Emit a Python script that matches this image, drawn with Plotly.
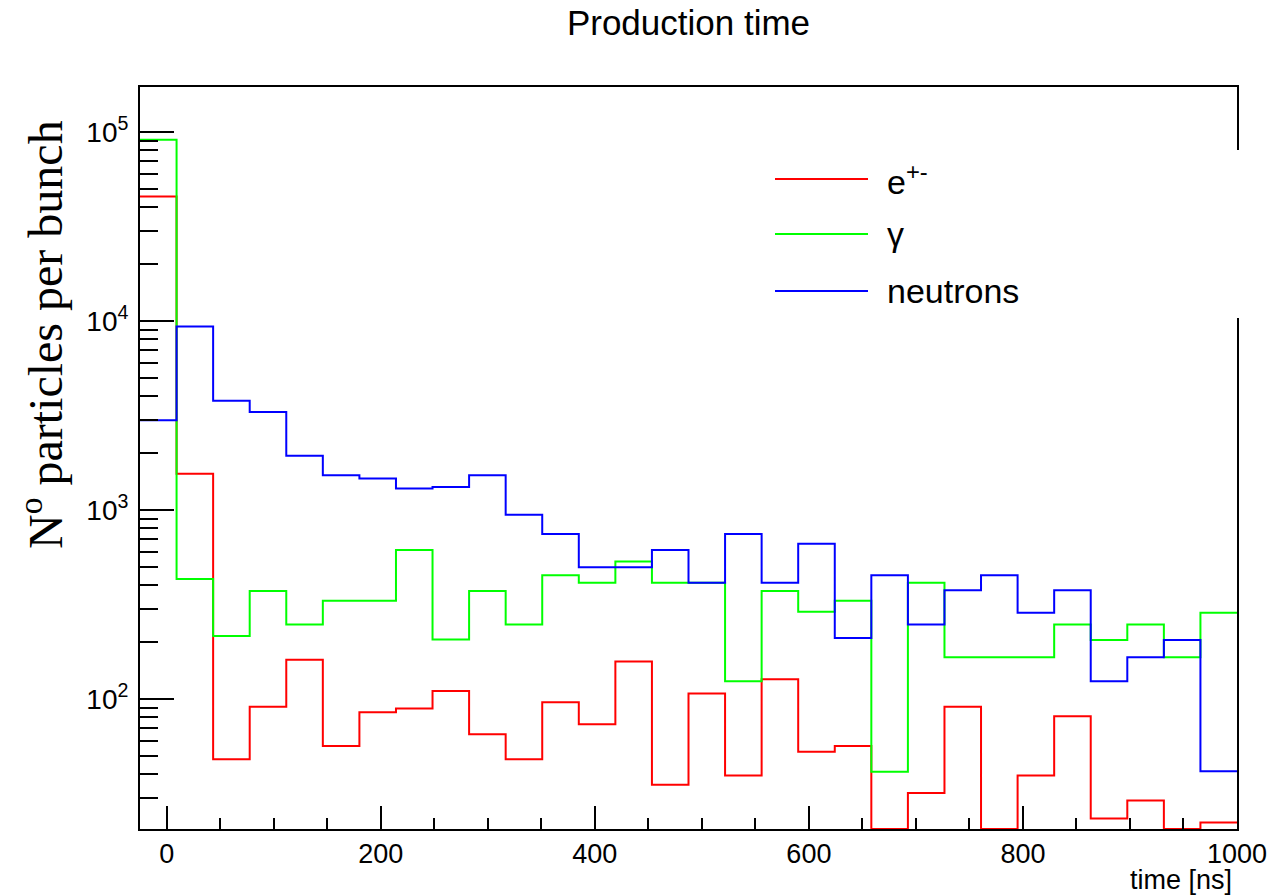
import numpy as np
import plotly.graph_objects as go

# ---- data ----
x_low, x_high, n_bins = -25.0, 1000.0, 30
bin_edges = np.linspace(x_low, x_high, n_bins + 1)

electrons = [45600, 1556, 48, 91, 161, 56.4, 85, 89, 110, 65,
             48, 96, 73.4, 158, 35.2, 107, 39.4, 127, 52.5, 56.4,
             0, 31.8, 91, 0, 39.3, 80.9, 23.3, 29, 0, 22.2]
gammas = [91000, 431, 215, 373, 248, 331, 331, 614, 206, 373,
          248, 451, 412, 533, 412, 412, 124, 373, 289, 331,
          41.2, 412, 166, 166, 166, 248, 205, 248, 166, 286]
neutrons = [2980, 9360, 3786, 3300, 1937, 1524, 1465, 1297, 1324, 1524,
            944, 746, 497, 497, 614, 412, 746, 412, 662, 210,
            451, 248, 376, 451, 286, 376, 124, 166, 205, 41.4]

series_names = ["e<sup>+-</sup>", "γ", "neutrons"]
series_colors = ["#ff0000", "#00ff00", "#0000ff"]

y_tick_vals = [1e2, 1e3, 1e4, 1e5]
y_tick_text = ["10<sup>2</sup>", "10<sup>3</sup>", "10<sup>4</sup>", "10<sup>5</sup>"]
x_tick_vals = [0, 200, 400, 600, 800, 1000]

y_log_range = [np.log10(20.5), 5.238]
y_floor = 10 ** y_log_range[0]

FIG_W, FIG_H = 1286, 896
PL, PR, PT, PB = 140, 1237, 87, 829   # plot area in pixels
PW, PH = PR - PL, PB - PT


def px_x(p):
    return (p - PL) / PW


def px_y(p):
    return (PB - p) / PH


fig = go.Figure()
for name, vals, col in zip(series_names, [electrons, gammas, neutrons], series_colors):
    v = np.maximum(np.asarray(vals, dtype=float), y_floor)
    ys = np.append(v, v[-1])
    fig.add_trace(go.Scatter(x=bin_edges, y=ys, mode="lines", line_shape="hv",
                             line=dict(color=col, width=2), name=name,
                             showlegend=False, hoverinfo="skip"))

FONT = "Liberation Sans, Arial, sans-serif"

minor_y = [d * 10 ** k for k in range(1, 6) for d in range(2, 10)]

fig.update_layout(
    width=FIG_W, height=FIG_H,
    paper_bgcolor="white", plot_bgcolor="white",
    margin=dict(l=PL, r=FIG_W - PR, t=PT, b=FIG_H - PB),
    font=dict(family=FONT, color="black"),
    title=dict(text="Production time", x=0.5, xref="paper", xanchor="center",
               y=1 - 23 / FIG_H, yref="container", yanchor="middle",
               font=dict(family=FONT, size=35, color="black")),
    xaxis=dict(range=[x_low, x_high], showgrid=False, zeroline=False,
               showline=True, linecolor="black", linewidth=2, mirror=True,
               ticks="inside", ticklen=23, tickwidth=2, tickcolor="black",
               tickmode="array", tickvals=x_tick_vals,
               tickfont=dict(family=FONT, size=27, color="black"),
               minor=dict(ticks="inside", ticklen=11, tickwidth=2, tickcolor="black",
                          dtick=50, tick0=0, showgrid=False)),
    yaxis=dict(type="log", range=y_log_range, showgrid=False, zeroline=False,
               showline=True, linecolor="black", linewidth=2, mirror=True,
               ticks="inside", ticklen=34, tickwidth=2, tickcolor="black",
               tickmode="array", tickvals=y_tick_vals, ticktext=y_tick_text,
               tickfont=dict(family=FONT, size=28, color="black"),
               ticklabelstandoff=4,
               minor=dict(ticks="inside", ticklen=18, tickwidth=2, tickcolor="black",
                          tickmode="array", tickvals=minor_y, showgrid=False)),
)

# legend box (white, covers part of right frame as in the reference)
fig.add_shape(type="rect", xref="paper", yref="paper",
              x0=0.56, x1=px_x(1245), y0=px_y(318), y1=px_y(150),
              fillcolor="white", line=dict(width=0), layer="above")

leg_y_px = [179, 234, 291]
for name, col, ypx in zip(series_names, series_colors, leg_y_px):
    yp = px_y(ypx)
    fig.add_shape(type="line", xref="paper", yref="paper",
                  x0=px_x(775), x1=px_x(868), y0=yp, y1=yp,
                  line=dict(color=col, width=2), layer="above")
    fig.add_annotation(text=name, xref="paper", yref="paper",
                       x=px_x(885), y=yp, xanchor="left", yanchor="middle",
                       showarrow=False, font=dict(family=FONT, size=34, color="black"))

# axis titles
fig.add_annotation(text="time [ns]", xref="paper", yref="paper",
                   x=px_x(1234), y=px_y(880),
                   xanchor="right", yanchor="middle", showarrow=False,
                   font=dict(family=FONT, size=27, color="black"))
fig.add_annotation(text="N<sup>o</sup> particles per bunch", xref="paper", yref="paper",
                   x=px_x(42), y=px_y(335), textangle=-90,
                   xanchor="center", yanchor="middle", showarrow=False,
                   font=dict(family="Liberation Serif, Times New Roman, serif", size=48, color="black"))

# remove the default page margin so the figure sits at the window's top-left corner
fig.write_html("out.html", config={"displayModeBar": False},
               post_script="document.body.style.margin='0';document.body.style.overflow='hidden';")
